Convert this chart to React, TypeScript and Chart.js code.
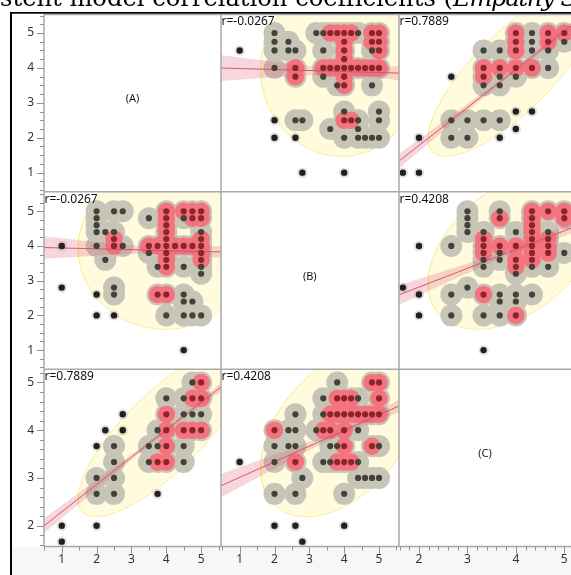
import React, { useEffect, useRef } from 'react';
import { Chart, registerables } from 'chart.js';

type Pt = [number, number];

// Matrix variables along the diagonal
const VARS = ['A', 'B', 'C'];
const DIAG_LABELS = ['(A)', '(B)', '(C)'];

// Pearson correlations of each pair
const R_AB = -0.0267;
const R_AC = 0.7889;
const R_BC = 0.4208;

// Moments used by the density ellipses and the fitted lines (A, B, C)
const MEANS = [3.9, 3.87, 3.95];
const SDS = [0.993, 0.927, 0.72];
const N_OBS = 400;

// Axis windows (A, B, C) and minor tick steps
const X_MIN = [0.49, 0.464, 1.587];
const X_MAX = [5.57, 5.574, 5.139];
const Y_MIN = [0.45, 0.45, 1.565];
const Y_MAX = [5.53, 5.56, 5.278];
const MINOR_X = [0.5, 0.5, 0.2];
const MINOR_Y = [0.25, 0.25, 0.2];
const MAJOR_TICKS = [1, 2, 3, 4, 5];

// ---- A vs B responses: [A, B]
const AB_SPARSE: Pt[] = [[1, 4], [1, 2.8], [4.5, 1], [2, 2.6], [2, 2], [2.5, 2]];
const AB_CLUSTER: Pt[] = [
  [2.5, 2.8], [2.5, 2.6],
  [2, 5], [2, 4.8], [2, 4.6], [2, 4.4], [2, 4], [2.25, 4.4], [2.25, 3.6],
  [2.5, 5], [2.5, 4.4], [2.5, 4.2], [2.5, 4], [2.75, 5], [2.75, 4],
  [3.75, 2.6], [4, 2.6], [4.5, 2.6], [4.5, 2.4], [4.75, 2.4], [4, 2], [4.5, 2], [4.75, 2], [5, 2],
  [3.5, 4.8], [3.5, 4], [3.5, 3.8], [3.75, 4], [3.75, 3.4],
  [4, 5], [4, 4.8], [4, 4.6], [4, 4.4], [4, 4.2], [4, 4], [4, 3.8], [4, 3.6], [4, 3.4],
  [4.25, 4], [4.5, 5], [4.5, 4.8], [4.5, 4], [4.5, 3.4], [4.75, 5], [4.75, 4.8], [4.75, 4],
  [5, 5], [5, 4.8], [5, 4.4], [5, 4.2], [5, 4], [5, 3.8], [5, 3.6], [5, 3.4], [5, 3.2],
];
const AB_DENSE: Pt[] = [
  [2.5, 4.2], [2.5, 4], [3.75, 2.6], [4, 2.6], [3.5, 4], [3.75, 4],
  [4, 5], [4, 4.8], [4, 4.6], [4, 4.4], [4, 4.2], [4, 4], [4, 3.8], [4, 3.6], [4, 3.4],
  [4.25, 4], [4.5, 4], [4.75, 4], [5, 4.2], [5, 4], [5, 3.8], [5, 3.6],
  [4.5, 5], [4.75, 5], [5, 5], [4.75, 4.8], [5, 4.8],
];

// ---- A vs C responses: [A, C]
const AC_SPARSE: Pt[] = [[1, 2], [1, 1.667], [2, 2], [2.25, 4], [2, 3.667], [2.75, 4.333], [2.75, 4], [3.75, 2.667]];
const AC_CLUSTER: Pt[] = [
  [2.5, 3.667], [2.5, 3.333], [2, 3], [2.5, 3], [2, 2.667], [2.5, 2.667],
  [4.75, 5], [5, 5], [4, 4.667], [4.5, 4.667], [4.75, 4.667], [5, 4.667],
  [4, 4.333], [4.5, 4.333], [4.75, 4.333], [5, 4.333],
  [3.75, 4], [4, 4], [4.5, 4], [4.75, 4], [5, 4],
  [3.5, 3.667], [3.75, 3.667], [4, 3.667], [4.5, 3.667],
  [3.5, 3.333], [3.75, 3.333], [4, 3.333], [4.5, 3.333],
];
const AC_DENSE: Pt[] = [
  [5, 5], [4.75, 4.667], [5, 4.667], [4, 4.333], [4, 4], [4, 3.667], [4, 3.333], [3.75, 3.333],
  [4.5, 4], [4.75, 4], [5, 4],
];

// ---- B vs C responses: [B, C]
const BC_SPARSE: Pt[] = [[1, 3.333], [2, 2], [2.6, 2], [2.8, 1.667], [4, 2]];
const BC_CLUSTER: Pt[] = [
  [2.6, 4.333], [2, 4], [2.4, 4], [2.6, 4], [2, 3.667], [2.4, 3.667], [2.6, 3.667],
  [2, 3.333], [2.6, 3.333], [2.8, 3], [2, 2.667], [2.6, 2.667],
  [3.8, 5], [4.8, 5], [5, 5],
  [3.4, 4.667], [3.8, 4.667], [4, 4.667], [4.2, 4.667], [4.4, 4.667], [5, 4.667],
  [3.4, 4.333], [3.6, 4.333], [3.8, 4.333], [4, 4.333], [4.2, 4.333], [4.4, 4.333], [4.6, 4.333], [4.8, 4.333], [5, 4.333],
  [3.2, 4], [3.4, 4], [3.6, 4], [4, 4], [4.4, 4],
  [3.6, 3.667], [3.8, 3.667], [4, 3.667], [4.8, 3.667], [5, 3.667],
  [3.4, 3.333], [3.6, 3.333], [3.8, 3.333], [4, 3.333], [4.2, 3.333], [4.4, 3.333],
  [4.4, 3], [4.6, 3], [4.8, 3], [5, 3],
  [4, 2.667],
];
const BC_DENSE: Pt[] = [
  [2, 4], [2.6, 3.333], [4.8, 5], [5, 5], [5, 4.667], [3.8, 4.667], [4, 4.667], [4.2, 4.667],
  [3.6, 4.333], [3.8, 4.333], [4, 4.333], [4.2, 4.333], [4.4, 4.333], [4.6, 4.333], [4.8, 4.333], [5, 4.333],
  [3.4, 4], [3.6, 4], [4, 4], [4, 3.667], [3.8, 3.333], [4, 3.333], [4.2, 3.333], [4.8, 3.667],
];

const PAIRS: Record<string, { r: number; sparse: Pt[]; cluster: Pt[]; dense: Pt[] }> = {
  AB: { r: R_AB, sparse: AB_SPARSE, cluster: AB_CLUSTER, dense: AB_DENSE },
  AC: { r: R_AC, sparse: AC_SPARSE, cluster: AC_CLUSTER, dense: AC_DENSE },
  BC: { r: R_BC, sparse: BC_SPARSE, cluster: BC_CLUSTER, dense: BC_DENSE },
};

// Colours
const ELLIPSE_FILL = 'rgba(255,245,172,0.42)';
const ELLIPSE_EDGE = 'rgb(246,236,140)';
const BLOB_GRAY = 'rgb(199,197,184)';
const BLOB_RED = 'rgb(243,116,126)';
const BAND_FILL = 'rgba(226,96,122,0.26)';
const FIT_LINE = 'rgb(214,84,96)';
const DOT_CLUSTER = 'rgb(66,66,54)';
const DOT_DENSE = 'rgb(140,36,42)';
const DOT_SPARSE = 'rgb(32,32,32)';
const HALO = 'rgba(120,120,120,0.22)';
const UI_FONT = 'Noto Sans';

// Clip every dataset to the panel spanned by its own pair of axes.
const panelClip = {
  id: 'panelClip',
  beforeDatasetDraw(chart: any, args: any) {
    const { xScale, yScale } = args.meta;
    const ctx = chart.ctx;
    ctx.save();
    ctx.beginPath();
    ctx.rect(xScale.left, yScale.top, xScale.right - xScale.left, yScale.bottom - yScale.top);
    ctx.clip();
  },
  afterDatasetDraw(chart: any) {
    chart.ctx.restore();
  },
};
Chart.register(panelClip);
Chart.register(...registerables);

const K95 = Math.sqrt(5.991);

function ellipseHalves(mx: number, my: number, sx: number, sy: number, r: number) {
  const up: { x: number; y: number }[] = [];
  const lo: { x: number; y: number }[] = [];
  const steps = 140;
  const q = Math.sqrt(1 - r * r);
  for (let i = 0; i <= steps; i++) {
    const u = -Math.cos((Math.PI * i) / steps);
    const w = Math.sqrt(Math.max(0, 1 - u * u));
    const x = mx + sx * K95 * u;
    up.push({ x, y: my + sy * K95 * (r * u + q * w) });
    lo.push({ x, y: my + sy * K95 * (r * u - q * w) });
  }
  return [up, lo];
}

function fitCurves(mx: number, my: number, sx: number, sy: number, r: number, x0: number, x1: number) {
  const slope = (r * sy) / sx;
  const sRes = sy * Math.sqrt(1 - r * r);
  const fit: { x: number; y: number }[] = [];
  const hi: { x: number; y: number }[] = [];
  const lo: { x: number; y: number }[] = [];
  const steps = 60;
  for (let i = 0; i <= steps; i++) {
    const x = x0 + ((x1 - x0) * i) / steps;
    const y = my + slope * (x - mx);
    const se = sRes * Math.sqrt(1 / N_OBS + ((x - mx) * (x - mx)) / ((N_OBS - 1) * sx * sx));
    fit.push({ x, y });
    hi.push({ x, y: y + 1.966 * se });
    lo.push({ x, y: y - 1.966 * se });
  }
  return { fit, hi, lo };
}

const keyOf = (p: Pt) => p[0] + ',' + p[1];

function panelDatasets(ci: number, ri: number): any[] {
  const xVar = VARS[ci];
  const yVar = VARS[ri];
  const key = [xVar, yVar].sort().join('');
  const flip = xVar !== key[0];
  const src = PAIRS[key];
  const toXY = (pts: Pt[]) => pts.map(([a, b]) => (flip ? { x: b, y: a } : { x: a, y: b }));
  const denseKeys = new Set(src.dense.map(keyOf));
  const plain = src.cluster.filter((p) => !denseKeys.has(keyOf(p)));
  const axes = { xAxisID: 'x' + xVar, yAxisID: 'y' + yVar };
  const [eUp, eLo] = ellipseHalves(MEANS[ci], MEANS[ri], SDS[ci], SDS[ri], src.r);
  const curves = fitCurves(MEANS[ci], MEANS[ri], SDS[ci], SDS[ri], src.r, X_MIN[ci], X_MAX[ci]);
  const line = (data: any[], extra: any) => ({
    type: 'line', data, ...axes, pointRadius: 0, tension: 0, borderWidth: 1, ...extra,
  });
  const pts = (data: any[], radius: number, color: string, order: number) => ({
    type: 'scatter', data, ...axes, pointRadius: radius, pointBackgroundColor: color,
    backgroundColor: color, pointBorderWidth: 0, borderColor: 'rgba(0,0,0,0)',
    pointBorderColor: 'rgba(0,0,0,0)', order,
  });
  return [
    line(eUp, { borderColor: ELLIPSE_EDGE, backgroundColor: ELLIPSE_FILL, fill: '+1', order: 90 }),
    line(eLo, { borderColor: ELLIPSE_EDGE, backgroundColor: ELLIPSE_FILL, fill: false, order: 90 }),
    pts(toXY(src.cluster), 11, BLOB_GRAY, 80),
    pts(toXY(src.dense), 8.8, BLOB_RED, 70),
    line(curves.hi, { borderColor: 'rgba(0,0,0,0)', backgroundColor: BAND_FILL, fill: '+1', order: 60 }),
    line(curves.lo, { borderColor: 'rgba(0,0,0,0)', backgroundColor: BAND_FILL, fill: false, order: 60 }),
    line(curves.fit, { borderColor: FIT_LINE, backgroundColor: FIT_LINE, fill: false, order: 50 }),
    pts(toXY(src.sparse), 5.2, HALO, 40),
    pts(toXY(plain), 3.1, DOT_CLUSTER, 30),
    pts(toXY(src.dense), 3.1, DOT_DENSE, 30),
    pts(toXY(src.sparse), 3.2, DOT_SPARSE, 30),
  ];
}

function tickValues(min: number, max: number, step: number) {
  const out: number[] = [];
  for (let k = Math.ceil(min / step - 1e-9); k * step <= max + 1e-9; k++) out.push(k * step);
  return out;
}
const isMajor = (v: number) => Math.abs(v - Math.round(v)) < 1e-6;

const decor = {
  id: 'matrixDecor',
  beforeDraw(chart: any) {
    const { ctx, width, height, chartArea } = chart;
    ctx.save();
    ctx.fillStyle = '#ffffff';
    ctx.fillRect(0, 0, width, height);
    ctx.fillStyle = '#f7f7f7';
    ctx.fillRect(12, chartArea.bottom + 0.5, width - 12, height - chartArea.bottom);
    ctx.restore();
  },
  afterDatasetsDraw(chart: any) {
    const ctx = chart.ctx;
    ctx.save();
    for (let ri = 0; ri < 3; ri++) {
      for (let ci = 0; ci < 3; ci++) {
        const xs = chart.scales['x' + VARS[ci]];
        const ys = chart.scales['y' + VARS[ri]];
        if (ri === ci) {
          ctx.font = `11px "${UI_FONT}"`;
          ctx.fillStyle = '#1a1a1a';
          ctx.textAlign = 'center';
          ctx.textBaseline = 'middle';
          const right = Math.min(xs.right, xs.left + 177.5);
          ctx.fillText(DIAG_LABELS[ri], (xs.left + right) / 2, (ys.top + ys.bottom) / 2 - 4);
        } else {
          const key = [VARS[ci], VARS[ri]].sort().join('');
          ctx.font = `12px "${UI_FONT}"`;
          ctx.fillStyle = '#111111';
          ctx.textAlign = 'left';
          ctx.textBaseline = 'top';
          ctx.fillText('r=' + PAIRS[key].r.toFixed(4), xs.left + 0.5, ys.top + 1.5);
        }
      }
    }
    ctx.restore();
  },
  afterDraw(chart: any) {
    const { ctx, width, height, chartArea } = chart;
    ctx.save();
    // panel borders
    ctx.strokeStyle = '#a9a9a9';
    ctx.lineWidth = 1.5;
    ctx.beginPath();
    for (let ci = 0; ci < 3; ci++) {
      const xs = chart.scales['x' + VARS[ci]];
      ctx.moveTo(xs.left, chartArea.top);
      ctx.lineTo(xs.left, chartArea.bottom);
    }
    for (let ri = 0; ri < 3; ri++) {
      const ys = chart.scales['y' + VARS[ri]];
      ctx.moveTo(chartArea.left, ys.top);
      ctx.lineTo(width, ys.top);
    }
    ctx.moveTo(chartArea.left, chartArea.bottom);
    ctx.lineTo(width, chartArea.bottom);
    ctx.stroke();

    // tick marks
    ctx.strokeStyle = '#8f8f8f';
    ctx.lineWidth = 1;
    ctx.beginPath();
    for (let i = 0; i < 3; i++) {
      const ys = chart.scales['y' + VARS[i]];
      for (const v of tickValues(Y_MIN[i], Y_MAX[i], MINOR_Y[i])) {
        const y = Math.round(ys.getPixelForValue(v)) + 0.5;
        ctx.moveTo(chartArea.left - (isMajor(v) ? 7 : 4), y);
        ctx.lineTo(chartArea.left, y);
      }
      const xs = chart.scales['x' + VARS[i]];
      for (const v of tickValues(X_MIN[i], X_MAX[i], MINOR_X[i])) {
        const x = Math.round(xs.getPixelForValue(v)) + 0.5;
        ctx.moveTo(x, chartArea.bottom);
        ctx.lineTo(x, chartArea.bottom + (isMajor(v) ? 7 : 4));
      }
    }
    ctx.stroke();

    // outer frame
    ctx.fillStyle = '#000000';
    ctx.fillRect(10, 12, 2, height - 12);
    ctx.fillRect(10, 12, width - 10, 1.7);
    ctx.restore();
  },
};

// Labels may sit at the panel edges: keep the plot area fixed to the layout padding.
const noLabelPadding = (s: any) => {
  s.paddingTop = 0;
  s.paddingBottom = 0;
  s.paddingLeft = 0;
  s.paddingRight = 0;
};

function buildScales() {
  const scales: any = {};
  const tickFont = { family: UI_FONT, size: 12 };
  const COL_WEIGHTS = [177, 178, 172];
  VARS.forEach((v, i) => {
    scales['x' + v] = {
      type: 'linear', axis: 'x', position: 'bottom', stack: 'cols', stackWeight: COL_WEIGHTS[i], weight: i + 1,
      min: X_MIN[i], max: X_MAX[i],
      grid: { display: false, drawTicks: false }, border: { display: false },
      ticks: { padding: 5.5, font: tickFont, color: '#333333', autoSkip: false, maxRotation: 0, callback: (val: number) => String(Math.round(val)) },
      afterBuildTicks: (s: any) => { s.ticks = MAJOR_TICKS.filter((t) => t >= X_MIN[i] && t <= X_MAX[i]).map((t) => ({ value: t })); },
      afterFit: (s: any) => { s.height = 28.5; noLabelPadding(s); },
    };
    scales['y' + v] = {
      type: 'linear', axis: 'y', position: 'left', stack: 'rows', stackWeight: 1, weight: 3 - i,
      min: Y_MIN[i], max: Y_MAX[i],
      grid: { display: false, drawTicks: false }, border: { display: false },
      ticks: { padding: 10, font: tickFont, color: '#333333', autoSkip: false, callback: (val: number) => String(Math.round(val)) },
      afterBuildTicks: (s: any) => { s.ticks = MAJOR_TICKS.filter((t) => t >= Y_MIN[i] && t <= Y_MAX[i]).map((t) => ({ value: t })); },
      afterFit: (s: any) => { s.width = 44; noLabelPadding(s); },
    };
  });
  return scales;
}

export default function App() {
  const ref = useRef<HTMLCanvasElement>(null);
  useEffect(() => {
    const datasets: any[] = [];
    for (let ri = 0; ri < 3; ri++) {
      for (let ci = 0; ci < 3; ci++) {
        if (ri !== ci) datasets.push(...panelDatasets(ci, ri));
      }
    }
    const chart = new Chart(ref.current as HTMLCanvasElement, {
      type: 'scatter',
      data: { datasets },
      options: {
        animation: false,
        responsive: false,
        devicePixelRatio: 1,
        events: [],
        layout: { autoPadding: false, padding: { top: 14.5, left: 0, right: 0, bottom: 0 } },
        plugins: { legend: { display: false }, tooltip: { enabled: false }, title: { display: false }, colors: { enabled: false } } as any,
        scales: buildScales(),
      } as any,
      plugins: [decor],
    } as any);
    return () => chart.destroy();
  }, []);
  return (
    <div style={{ position: 'fixed', left: 0, top: 0, width: 571, height: 575, overflow: 'hidden', background: '#fff' }}>
      <canvas ref={ref} width={571} height={575} style={{ display: 'block', width: 571, height: 575 }} />
      <div
        style={{
          position: 'absolute', left: 0, top: -14, whiteSpace: 'nowrap',
          fontFamily: '"DejaVu Serif", serif', fontSize: 24.2, lineHeight: '25px', color: '#000',
        }}
      >
        stent model correlation coefficients (<i style={{ letterSpacing: '-1.2px' }}>Empathy Sch</i>
      </div>
    </div>
  );
}
